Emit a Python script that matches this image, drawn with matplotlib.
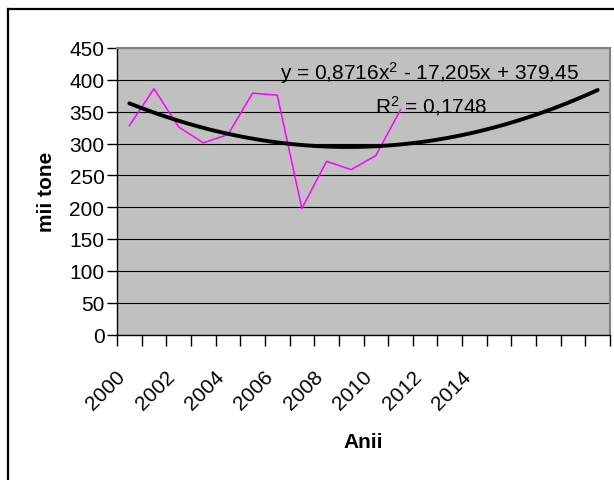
import numpy as np
import matplotlib
matplotlib.use('Agg')
import matplotlib.pyplot as plt
from matplotlib.lines import Line2D

plt.rcParams['font.family'] = ['Liberation Sans', 'DejaVu Sans']
plt.rcParams['mathtext.fontset'] = 'custom'
plt.rcParams['mathtext.rm'] = 'Liberation Sans'
plt.rcParams['mathtext.default'] = 'regular'

# data (mii tone), 2000-2011
years = list(range(2000, 2012))
values = [328, 386, 326, 301, 314, 379, 376, 198, 272, 259, 281, 353]

# polynomial trend shown on the chart
coef = [0.8716, -17.205, 379.45]
r2 = '0,1748'
n_cat = 20  # category slots on the x axis

tick_labels = ['2000', '2002', '2004', '2006', '2008', '2010', '2012', '2014']

FS = 15

fig = plt.figure(figsize=(6.14, 4.81), dpi=100)
ax = fig.add_axes([117 / 614, 1 - 335.5 / 481, 493 / 614, 286.5 / 481])
ax.set_facecolor('#c0c0c0')

# horizontal grid
for g in range(50, 451, 50):
    ax.axhline(g, color='black', lw=0.8, zorder=1)

x = np.arange(1, len(values) + 1)
ax.plot(x, values, color='#ff00ff', lw=1.1, zorder=3)

xt = np.linspace(1, n_cat, 200)
ax.plot(xt, np.polyval(coef, xt), color='black', lw=2.8, zorder=4,
        solid_capstyle='round')

ax.set_xlim(0.5, n_cat + 0.5)
ax.set_ylim(0, 450)
ax.set_yticks(range(0, 451, 50))
ax.tick_params(axis='y', direction='out', length=7, width=1, labelsize=FS, pad=2)

# tick marks between categories, labels on category centres
ax.set_xticks(np.arange(0.5, n_cat + 1, 1))
ax.set_xticklabels([])
ax.tick_params(axis='x', which='major', direction='out', length=8, width=1)
ax.set_xticks(np.arange(1, 2 * len(tick_labels), 2), minor=True)
ax.set_xticklabels(tick_labels, minor=True, rotation=45, ha='right', va='top',
                   fontsize=FS)
ax.tick_params(axis='x', which='minor', length=0, pad=23)

for s in ['top', 'right']:
    ax.spines[s].set_color('#808080')
    ax.spines[s].set_linewidth(1.5)
for s in ['left', 'bottom']:
    ax.spines[s].set_color('black')
    ax.spines[s].set_linewidth(1)

ax.set_ylabel('mii tone', fontsize=FS, fontweight='bold', va='center')
ax.yaxis.set_label_coords(-70 / 493, 0.5)
ax.set_xlabel('Anii', fontsize=FS, fontweight='bold')
ax.xaxis.set_label_coords(0.5, -(433 - 335.5) / 286.5)

ax.text((430 - 117) / 493, (335.5 - 73) / 286.5,
        'y = %s$^{2}$ - %s + %s' % ('0,8716x', '17,205x', '379,45'),
        transform=ax.transAxes, ha='center', va='center', fontsize=FS, zorder=5)
ax.text((431 - 117) / 493, (335.5 - 106) / 286.5, 'R$^{2}$ = ' + r2,
        transform=ax.transAxes, ha='center', va='center', fontsize=FS, zorder=5)

# outer chart frame (only left and top edges visible)
fig.add_artist(Line2D([8 / 614, 8 / 614], [0, 1 - 10 / 481],
                      transform=fig.transFigure, color='black', lw=1.6))
fig.add_artist(Line2D([8 / 614, 1], [1 - 10 / 481, 1 - 10 / 481],
                      transform=fig.transFigure, color='black', lw=1.6))

fig.savefig('out.png', dpi=100)
